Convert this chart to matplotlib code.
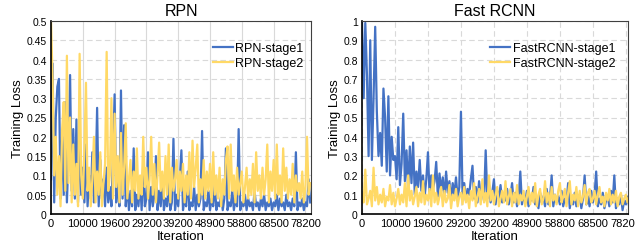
import matplotlib
matplotlib.use("Agg")
import matplotlib.pyplot as plt
import numpy as np

plt.rcParams['font.family'] = ['Liberation Sans', 'DejaVu Sans']

# x tick labels (category axis, one label every 20 points)
iter_labels = ["0", "10000", "19600", "29200", "39200", "48900", "58800", "68500", "78200"]
label_step = 20

# RPN losses
rpn_stage1 = [
    0.09, 0.39, 0.03, 0.25, 0.33, 0.35, 0.04, 0.20, 0.05, 0.29, 0.03, 0.15, 0.36, 0.06, 0.22, 0.04, 0.245, 0.03, 0.20, 0.05,
    0.12, 0.03, 0.18, 0.02, 0.10, 0.04, 0.16, 0.03, 0.08, 0.275, 0.02, 0.14, 0.04, 0.09, 0.02, 0.12, 0.03, 0.07, 0.02, 0.15,
    0.31, 0.03, 0.10, 0.02, 0.32, 0.04, 0.23, 0.02, 0.08, 0.01, 0.06, 0.02, 0.17, 0.01, 0.05, 0.02, 0.09, 0.01, 0.13, 0.02,
    0.04, 0.16, 0.01, 0.07, 0.02, 0.05, 0.15, 0.01, 0.06, 0.02, 0.10, 0.01, 0.04, 0.02, 0.08, 0.01, 0.03, 0.195, 0.01, 0.05,
    0.02, 0.09, 0.165, 0.01, 0.04, 0.02, 0.11, 0.01, 0.03, 0.02, 0.07, 0.01, 0.05, 0.02, 0.04, 0.215, 0.01, 0.03, 0.02, 0.06,
    0.01, 0.04, 0.02, 0.08, 0.01, 0.03, 0.02, 0.05, 0.01, 0.04, 0.17, 0.01, 0.03, 0.02, 0.06, 0.01, 0.04, 0.02, 0.22, 0.01,
    0.03, 0.02, 0.05, 0.01, 0.04, 0.02, 0.03, 0.01, 0.06, 0.02, 0.03, 0.01, 0.04, 0.02, 0.05, 0.01, 0.03, 0.02, 0.04, 0.01,
    0.03, 0.02, 0.05, 0.01, 0.04, 0.02, 0.03, 0.01, 0.05, 0.02, 0.03, 0.01, 0.04, 0.02, 0.16, 0.01, 0.03, 0.02, 0.04, 0.01,
    0.03, 0.02, 0.09, 0.03,
]
rpn_stage2 = [
    0.50, 0.35, 0.10, 0.20, 0.05, 0.15, 0.02, 0.22, 0.29, 0.06, 0.41, 0.08, 0.25, 0.03, 0.18, 0.05, 0.13, 0.02, 0.415, 0.10,
    0.04, 0.17, 0.34, 0.06, 0.12, 0.02, 0.09, 0.20, 0.03, 0.11, 0.05, 0.16, 0.02, 0.08, 0.13, 0.42, 0.06, 0.10, 0.30, 0.04,
    0.26, 0.07, 0.15, 0.03, 0.21, 0.05, 0.12, 0.235, 0.04, 0.09, 0.14, 0.03, 0.11, 0.06, 0.17, 0.04, 0.10, 0.05, 0.20, 0.07,
    0.12, 0.04, 0.09, 0.20, 0.05, 0.13, 0.03, 0.10, 0.185, 0.06, 0.11, 0.04, 0.15, 0.05, 0.18, 0.03, 0.12, 0.06, 0.09, 0.14,
    0.04, 0.11, 0.06, 0.13, 0.03, 0.10, 0.05, 0.16, 0.04, 0.19, 0.07, 0.12, 0.18, 0.03, 0.09, 0.05, 0.14, 0.04, 0.11, 0.06,
    0.13, 0.03, 0.16, 0.05, 0.10, 0.04, 0.12, 0.02, 0.09, 0.05, 0.14, 0.175, 0.04, 0.18, 0.06, 0.10, 0.03, 0.12, 0.05, 0.08,
    0.11, 0.03, 0.07, 0.12, 0.04, 0.09, 0.05, 0.13, 0.03, 0.16, 0.06, 0.10, 0.04, 0.12, 0.05, 0.09, 0.18, 0.03, 0.11, 0.06,
    0.14, 0.04, 0.18, 0.05, 0.10, 0.03, 0.17, 0.06, 0.12, 0.04, 0.09, 0.05, 0.13, 0.03, 0.10, 0.06, 0.08, 0.04, 0.11, 0.03,
    0.07, 0.20, 0.05, 0.08,
]

# Fast RCNN losses
frcnn_stage1 = [
    1.00, 0.60, 0.99, 0.72, 0.30, 0.90, 0.28, 0.60, 0.97, 0.53, 0.30, 0.42, 0.25, 0.65, 0.50, 0.22, 0.61, 0.20, 0.40, 0.28,
    0.30, 0.18, 0.45, 0.15, 0.26, 0.52, 0.17, 0.33, 0.12, 0.35, 0.16, 0.37, 0.10, 0.22, 0.14, 0.28, 0.12, 0.20, 0.09, 0.18,
    0.32, 0.10, 0.20, 0.13, 0.17, 0.27, 0.09, 0.21, 0.12, 0.19, 0.08, 0.22, 0.11, 0.17, 0.07, 0.16, 0.10, 0.19, 0.08, 0.14,
    0.53, 0.09, 0.16, 0.07, 0.13, 0.10, 0.18, 0.25, 0.08, 0.14, 0.06, 0.17, 0.09, 0.12, 0.07, 0.33, 0.08, 0.15, 0.06, 0.11,
    0.18, 0.05, 0.12, 0.08, 0.15, 0.06, 0.10, 0.07, 0.13, 0.05, 0.09, 0.16, 0.06, 0.11, 0.04, 0.08, 0.22, 0.05, 0.10, 0.06,
    0.12, 0.04, 0.09, 0.07, 0.14, 0.05, 0.08, 0.03, 0.11, 0.06, 0.09, 0.04, 0.13, 0.05, 0.08, 0.20, 0.04, 0.10, 0.06, 0.09,
    0.05, 0.12, 0.04, 0.08, 0.06, 0.16, 0.03, 0.09, 0.05, 0.11, 0.04, 0.07, 0.10, 0.03, 0.08, 0.20, 0.05, 0.09, 0.04, 0.12,
    0.06, 0.10, 0.22, 0.04, 0.08, 0.05, 0.11, 0.03, 0.07, 0.09, 0.04, 0.12, 0.06, 0.20, 0.03, 0.08, 0.05, 0.10, 0.02, 0.07,
    0.05, 0.09, 0.04, 0.06,
]
frcnn_stage2 = [
    0.10, 0.06, 0.23, 0.05, 0.08, 0.12, 0.04, 0.24, 0.07, 0.14, 0.05, 0.10, 0.06, 0.13, 0.04, 0.09, 0.07, 0.15, 0.05, 0.11,
    0.04, 0.08, 0.13, 0.05, 0.10, 0.06, 0.16, 0.04, 0.20, 0.07, 0.12, 0.05, 0.09, 0.14, 0.04, 0.11, 0.06, 0.17, 0.05, 0.10,
    0.07, 0.13, 0.04, 0.20, 0.06, 0.11, 0.05, 0.09, 0.14, 0.04, 0.12, 0.06, 0.08, 0.15, 0.03, 0.10, 0.07, 0.13, 0.04, 0.09,
    0.11, 0.05, 0.14, 0.06, 0.10, 0.03, 0.12, 0.07, 0.16, 0.04, 0.09, 0.13, 0.05, 0.18, 0.06, 0.11, 0.04, 0.20, 0.07, 0.12,
    0.05, 0.10, 0.14, 0.04, 0.08, 0.12, 0.06, 0.17, 0.05, 0.09, 0.13, 0.04, 0.11, 0.06, 0.15, 0.05, 0.10, 0.07, 0.12, 0.04,
    0.09, 0.14, 0.05, 0.11, 0.06, 0.16, 0.04, 0.10, 0.13, 0.05, 0.08, 0.17, 0.06, 0.11, 0.04, 0.14, 0.07, 0.10, 0.05, 0.12,
    0.16, 0.06, 0.09, 0.13, 0.04, 0.11, 0.17, 0.05, 0.10, 0.07, 0.14, 0.04, 0.12, 0.06, 0.09, 0.15, 0.05, 0.11, 0.13, 0.06,
    0.08, 0.12, 0.05, 0.10, 0.14, 0.06, 0.09, 0.04, 0.11, 0.07, 0.13, 0.05, 0.10, 0.06, 0.12, 0.04, 0.09, 0.11, 0.05, 0.08,
    0.10, 0.06, 0.09, 0.05,
]

BLUE = "#4472C4"
YELLOW = "#FFD966"
GRID = "#D9D9D9"


def draw_panel(ax, s1, s2, names, title, ymax, ystep, xmax, grid_ls, leg_x):
    x = np.arange(len(s1))
    ax.plot(x, s1, color=BLUE, lw=1.6, label=names[0])
    ax.plot(x, s2, color=YELLOW, lw=1.6, label=names[1])

    ax.set_xlim(0, xmax)
    ax.set_ylim(0, ymax)
    ticks = np.arange(len(iter_labels)) * label_step
    ax.set_xticks(ticks)
    ax.set_xticklabels(iter_labels, fontsize=8)
    yt = np.round(np.arange(0, ymax + ystep / 2, ystep), 2)
    ax.set_yticks(yt)
    ax.set_yticklabels([f"{v:g}" for v in yt], fontsize=7.5)
    ax.tick_params(length=0, pad=3)

    ax.grid(axis="y", color=GRID, ls=(0, (5, 3)), lw=0.8)
    ax.grid(axis="x", color=GRID, ls=grid_ls, lw=0.8)
    ax.set_axisbelow(True)
    for s in ax.spines.values():
        s.set_color("#404040")
        s.set_linewidth(0.8)
    ax.spines["left"].set_color("black")
    ax.spines["bottom"].set_color("black")
    ax.spines["left"].set_linewidth(1.2)
    ax.spines["bottom"].set_linewidth(1.2)

    ax.set_title(title, fontsize=11.5, pad=4)
    ax.set_xlabel("Iteration", fontsize=9.5, labelpad=1)
    ax.set_ylabel("Training Loss", fontsize=9.5, labelpad=2)
    ax.legend(loc="upper right", bbox_to_anchor=(leg_x, 0.93), frameon=False,
              fontsize=9, handlelength=1.6, handletextpad=0.2, labelspacing=0.25,
              borderaxespad=0.2)


fig = plt.figure(figsize=(6.35, 2.53), dpi=100)
ax1 = fig.add_axes([51 / 635, 1 - 215 / 253, 260 / 635, 193 / 253])
ax2 = fig.add_axes([362 / 635, 1 - 215 / 253, 266 / 635, 193 / 253])

draw_panel(ax1, rpn_stage1, rpn_stage2, ["RPN-stage1", "RPN-stage2"], "RPN",
           0.5, 0.05, 163.5, "-", 1.0)
draw_panel(ax2, frcnn_stage1, frcnn_stage2, ["FastRCNN-stage1", "FastRCNN-stage2"], "Fast RCNN",
           1.0, 0.1, 161.3, (0, (5, 3)), 0.98)

fig.savefig("out.png", dpi=100)
